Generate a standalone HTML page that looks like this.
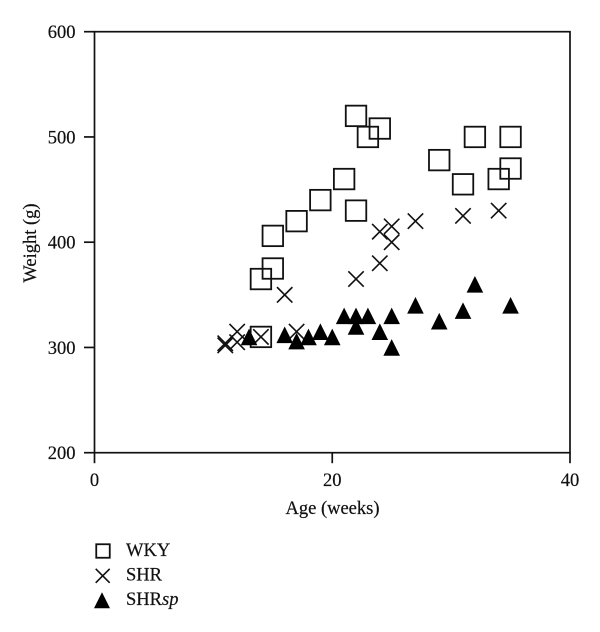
<!DOCTYPE html>
<html>
<head>
<meta charset="utf-8">
<style>
html,body{margin:0;padding:0;background:#fff;width:600px;height:632px;overflow:hidden}
svg{display:block}
text{font-family:"Liberation Serif",serif;fill:#111;stroke:#111;stroke-width:0.2px}
</style>
</head>
<body>
<svg id="chart" width="600" height="632" viewBox="0 0 600 632" xmlns="http://www.w3.org/2000/svg"></svg>
<script>
const xTicks = [0, 20, 40];
const yTicks = [200, 300, 400, 500, 600];
const wkyAge = [14, 14, 15, 15, 17, 19, 21, 22, 22, 23, 24, 29, 31, 32, 34, 35, 35];
const wkyWeight = [310, 365, 375, 406, 420, 440, 460, 430, 520, 500, 508, 478, 455, 500, 460, 470, 500];
const shrAge = [11, 11, 12, 12, 14, 16, 17, 22, 24, 24, 25, 25, 27, 31, 34];
const shrWeight = [302, 304, 315, 305, 310, 350, 315, 365, 380, 410, 415, 400, 420, 425, 430];
const spAge = [13, 16, 17, 18, 19, 20, 21, 22, 22, 23, 24, 25, 25, 27, 29, 31, 32, 35];
const spWeight = [310, 312, 306, 310, 315, 310, 330, 330, 320, 330, 315, 330, 300, 340, 325, 335, 360, 340];

const NS = 'http://www.w3.org/2000/svg';
const svg = document.getElementById('chart');
const xScale = v => 94.5 + (v / 40) * 475.5;
const yScale = v => 452.7 - ((v - 200) / 400) * 421;

function make(tag, attrs, parent) {
  const el = document.createElementNS(NS, tag);
  for (const k in attrs) el.setAttribute(k, attrs[k]);
  (parent || svg).appendChild(el);
  return el;
}
function drawSquare(g, cx, cy, s, w) {
  return make('rect', {x: cx - s / 2, y: cy - s / 2, width: s, height: s, fill: 'none', stroke: '#111', 'stroke-width': w}, g);
}
function drawCross(g, cx, cy, r, w) {
  return make('path', {d: `M${cx - r} ${cy - r}L${cx + r} ${cy + r}M${cx - r} ${cy + r}L${cx + r} ${cy - r}`, fill: 'none', stroke: '#111', 'stroke-width': w}, g);
}
function drawTriangle(g, cx, cy, r) {
  return make('polygon', {points: `${cx},${cy - r} ${cx + r},${cy + r} ${cx - r},${cy + r}`, fill: '#000'}, g);
}

const axes = make('g', {});


const frame = make('rect', {x: xScale(0), y: yScale(600), width: xScale(40) - xScale(0), height: yScale(200) - yScale(600), fill: 'none', stroke: '#111', 'stroke-width': 1.7}, axes);



xTicks.forEach(t => {
  const mark = make('line', {x1: xScale(t), x2: xScale(t), y1: yScale(200), y2: yScale(200) + 10.5, stroke: '#111', 'stroke-width': 1.7}, axes);
  
  
  const label = make('text', {x: xScale(t), y: 486, 'text-anchor': 'middle', 'font-size': 18.5}, axes);
  
  
  label.textContent = t;
});
yTicks.forEach(t => {
  const mark = make('line', {x1: xScale(0) - 10.5, x2: xScale(0), y1: yScale(t), y2: yScale(t), stroke: '#111', 'stroke-width': 1.7}, axes);
  
  
  const label = make('text', {x: 75.5, y: yScale(t) + 6.5, 'text-anchor': 'end', 'font-size': 18.5}, axes);
  
  
  label.textContent = t;
});

const xTitle = make('text', {x: 332.5, y: 514, 'text-anchor': 'middle', 'font-size': 18.5});


xTitle.textContent = 'Age (weeks)';

const yTitle = make('text', {x: 0, y: 0, transform: 'translate(36,243) rotate(-90)', 'text-anchor': 'middle', 'font-size': 18.5});


yTitle.textContent = 'Weight (g)';

const wkyGroup = make('g', {});


wkyAge.forEach((a, i) => {
  const p = drawSquare(wkyGroup, xScale(a), yScale(wkyWeight[i]), 20.5, 1.8);
  
  
});

const shrGroup = make('g', {});


shrAge.forEach((a, i) => {
  const p = drawCross(shrGroup, xScale(a), yScale(shrWeight[i]), 7.7, 1.6);
  
  
});

const spGroup = make('g', {});


spAge.forEach((a, i) => {
  const p = drawTriangle(spGroup, xScale(a), yScale(spWeight[i]), 8.3);
  
  
});

const legend = make('g', {});



const legendWky = make('g', {}, legend);


drawSquare(legendWky, 103, 551, 13.5, 1.8);
make('text', {x: 126, y: 556, 'font-size': 18.5}, legendWky).textContent = 'WKY';

const legendShr = make('g', {}, legend);


drawCross(legendShr, 102.7, 575.8, 7, 1.6);
make('text', {x: 126, y: 580.5, 'font-size': 18.5}, legendShr).textContent = 'SHR';

const legendSp = make('g', {}, legend);


drawTriangle(legendSp, 102, 600.3, 8);
const spText = make('text', {x: 126, y: 605, 'font-size': 18.5}, legendSp);
spText.textContent = 'SHR';
const spItalic = make('tspan', {'font-style': 'italic'}, spText);
spItalic.textContent = 'sp';
</script>
</body>
</html>
